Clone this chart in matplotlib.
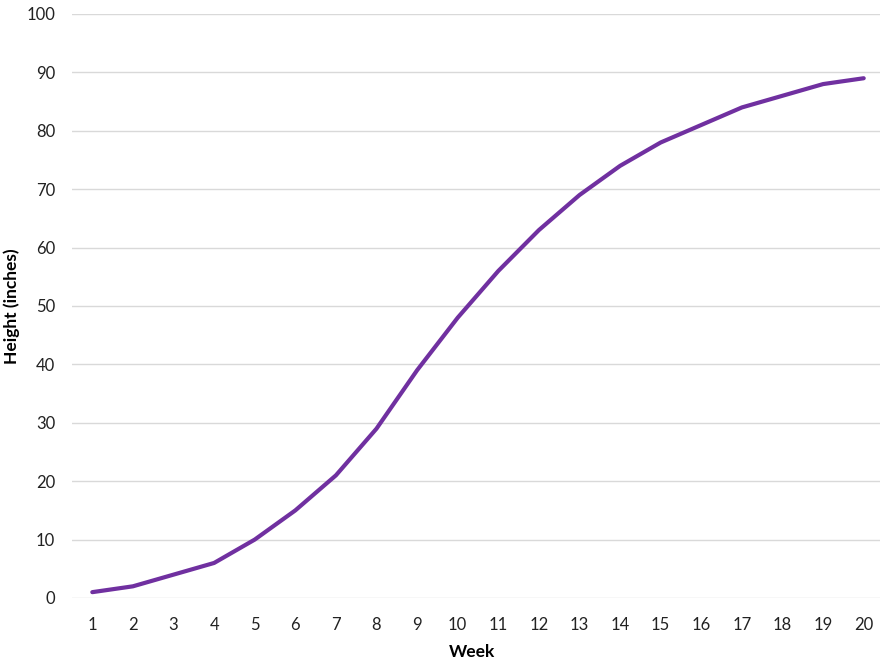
import matplotlib
matplotlib.use("Agg")
import matplotlib.pyplot as plt

weeks = list(range(1, 21))
heights = [1, 2, 4, 6, 10, 15, 21, 29, 39, 48, 56, 63, 69, 74, 78, 81, 84, 86, 88, 89]
yticks = list(range(0, 101, 10))

plt.rcParams['font.family'] = ['Lato', 'DejaVu Sans']

fig = plt.figure(figsize=(8.8, 6.6), dpi=100)
ax = fig.add_axes([72/880, 62/660, 812/880, 584/660])

ax.plot(weeks, heights, color='#7030A0', linewidth=3.0, solid_capstyle='round')

ax.set_xlim(0.5, 20.5)
ax.set_ylim(0, 100)
ax.set_yticks(yticks)
ax.set_xticks(weeks)
ax.grid(axis='y', color='#d9d9d9', linewidth=1)
ax.set_axisbelow(True)
for s in ax.spines.values():
    s.set_visible(False)
ax.tick_params(axis='both', length=0, labelsize=12, colors='#222222')
ax.tick_params(axis='x', pad=14)
ax.tick_params(axis='y', pad=12)

fig.text(472/880, 1 - 652/660, 'Week', fontsize=12.5, fontweight='bold', ha='center', va='center')
fig.text(12/880, 1 - 306/660, 'Height (inches)', fontsize=12.5, fontweight='bold',
         ha='center', va='center', rotation=90)

fig.savefig('out.png', dpi=100, facecolor='white')
